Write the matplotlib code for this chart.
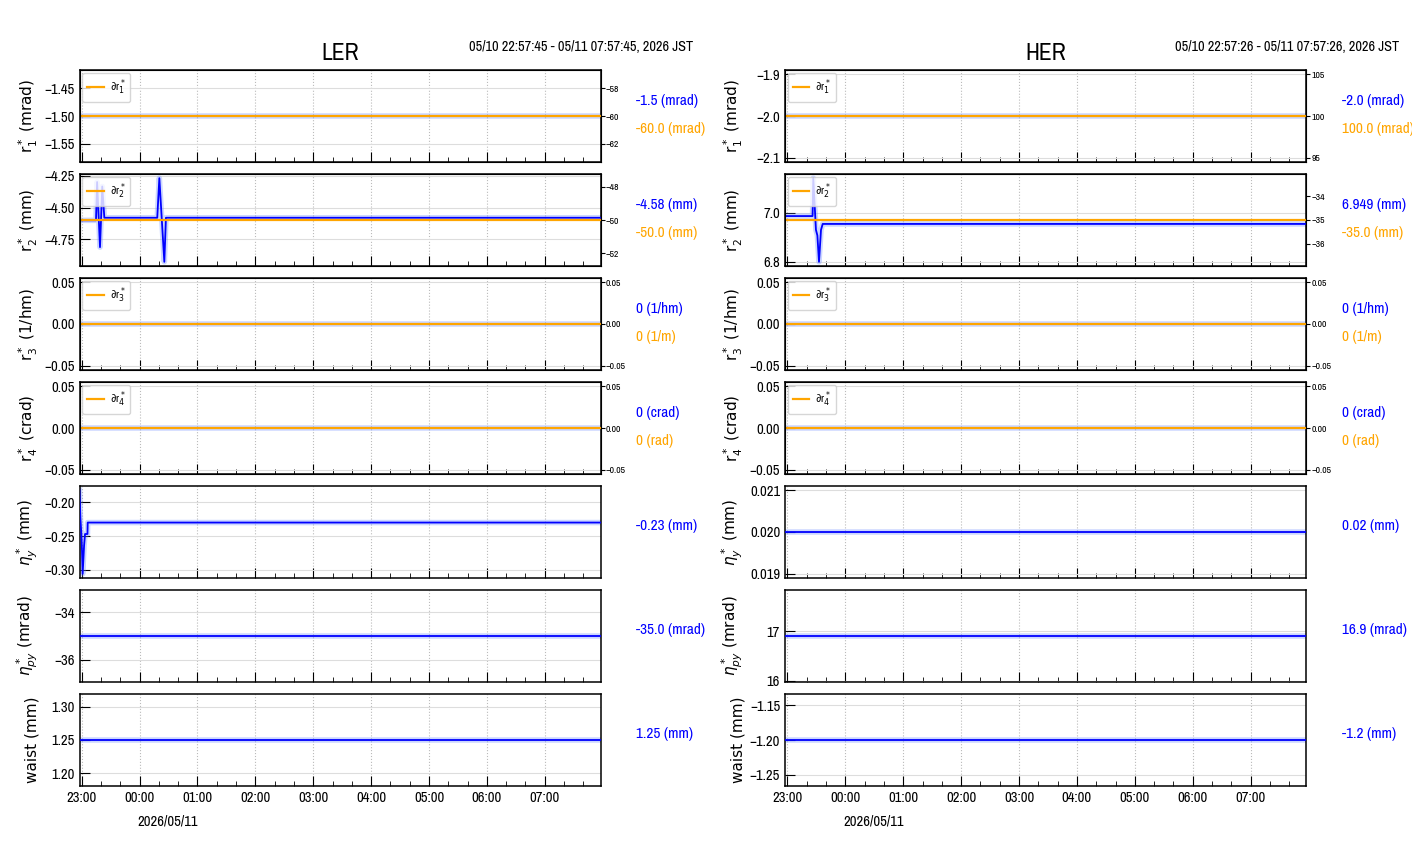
import pandas as pd
import matplotlib.pyplot as plt
import matplotlib.dates as mdates
from matplotlib import font_manager as fm
from matplotlib.ticker import MaxNLocator

# pick a narrow font for the numbers / titles if one is installed
fonts = fm.fontManager.ttflist
narrow_name, narrow_stretch = 'Liberation Sans', 'normal'
for f in fonts:
    if f.name == 'Liberation Sans Narrow':
        narrow_name, narrow_stretch = f.name, 'normal'
        break
else:
    for f in fonts:
        if 'Condensed' in f.name or 'Narrow' in f.name:
            narrow_name, narrow_stretch = f.name, 'normal'
            break
    else:
        for f in fonts:
            if f.name in ('DejaVu Sans', 'Roboto', 'Open Sans', 'Noto Sans') and 'condensed' in str(f.stretch):
                narrow_name, narrow_stretch = f.name, f.stretch
                break

plt.rcParams['font.family'] = [narrow_name, 'DejaVu Sans']
plt.rcParams['font.stretch'] = narrow_stretch
plt.rcParams['axes.unicode_minus'] = True

# time windows
ler_t0, ler_t1 = '2026-05-10 22:57:45', '2026-05-11 07:57:45'
her_t0, her_t1 = '2026-05-10 22:57:26', '2026-05-11 07:57:26'
ler_range = '05/10 22:57:45 - 05/11 07:57:45, 2026 JST'
her_range = '05/10 22:57:26 - 05/11 07:57:26, 2026 JST'
date_label = '2026/05/11'

ylabels = ['r$_1^*$ (mrad)', 'r$_2^*$ (mm)', 'r$_3^*$ (1/hm)', 'r$_4^*$ (crad)',
           '$\\eta_y^*$ (mm)', '$\\eta_{py}^*$ (mrad)', 'waist (mm)']
leg_labels = ['∂r$_1^*$', '∂r$_2^*$', '∂r$_3^*$', '∂r$_4^*$']

# LER r2* (spikes)
ler_r2_t = ['2026-05-10 22:57:45', '2026-05-10 23:14:50', '2026-05-10 23:16:00',
            '2026-05-10 23:19:00', '2026-05-10 23:21:20', '2026-05-10 23:23:30',
            '2026-05-11 00:18:20', '2026-05-11 00:20:30', '2026-05-11 00:25:40',
            '2026-05-11 00:27:20', '2026-05-11 07:57:45']
ler_r2_v = [-4.60, -4.60, -4.30, -4.81, -4.335, -4.58, -4.58, -4.27, -4.925, -4.58, -4.58]

# LER eta_y*
ler_ny_t = ['2026-05-10 22:57:45', '2026-05-10 22:58:40', '2026-05-10 22:59:40',
            '2026-05-10 23:00:10', '2026-05-10 23:01:00', '2026-05-10 23:02:30',
            '2026-05-10 23:03:30', '2026-05-10 23:06:00', '2026-05-10 23:06:15',
            '2026-05-11 07:57:45']
ler_ny_v = [-0.182, -0.223, -0.247, -0.264, -0.306, -0.264, -0.247, -0.247, -0.23, -0.23]

# HER r2*
her_r2_t = ['2026-05-10 22:57:26', '2026-05-10 23:26:00', '2026-05-10 23:26:45',
            '2026-05-10 23:29:30', '2026-05-10 23:31:00', '2026-05-10 23:32:40',
            '2026-05-10 23:34:45', '2026-05-10 23:35:30', '2026-05-10 23:36:30',
            '2026-05-11 07:57:26']
her_r2_v = [6.986, 6.986, 7.14, 6.93, 6.907, 6.80, 6.93, 6.94, 6.954, 6.954]

# constant values
ler_const = [-1.5, None, 0.0, 0.0, None, -35.0, 1.25]
ler_set = [-60.0, -50.0, 0.0, 0.0]
her_const = [-2.0, None, 0.0, 0.0, 0.02, 16.9, -1.2]
her_set = [100.0, -35.0, 0.0, 0.0]

ler_txt = ['-1.5 (mrad)', '-4.58 (mm)', '0 (1/hm)', '0 (crad)', '-0.23 (mm)', '-35.0 (mrad)', '1.25 (mm)']
ler_set_txt = ['-60.0 (mrad)', '-50.0 (mm)', '0 (1/m)', '0 (rad)']
her_txt = ['-2.0 (mrad)', '6.949 (mm)', '0 (1/hm)', '0 (crad)', '0.02 (mm)', '16.9 (mrad)', '-1.2 (mm)']
her_set_txt = ['100.0 (mrad)', '-35.0 (mm)', '0 (1/m)', '0 (rad)']

fig = plt.figure(figsize=(14.12, 8.64), dpi=100)
W, H = 1412, 864


def blue_line(ax, t, v):
    t = pd.to_datetime(t)
    ax.plot(t, v, color='#6f8fff', lw=4, alpha=0.35, zorder=2)
    ax.plot(t, v, color='blue', lw=1.3, zorder=3)


def make_column(left_px, t0, t1, const, setv, txt, set_txt, series, title, trange):
    t0, t1 = pd.Timestamp(t0), pd.Timestamp(t1)
    axes = []
    for i in range(7):
        top = 70 + i * 104
        ax = fig.add_axes([left_px / W, 1 - (top + 92) / H, 521 / W, 92 / H])
        axes.append(ax)
        if i in series:
            blue_line(ax, *series[i])
        else:
            blue_line(ax, [t0, t1], [const[i], const[i]])
        ax.set_xlim(t0, t1)
        ax.xaxis.set_major_locator(mdates.HourLocator())
        ax.xaxis.set_minor_locator(mdates.MinuteLocator(byminute=[20, 40]))
        ax.xaxis.set_major_formatter(mdates.DateFormatter('%H:%M'))
        ax.tick_params(which='both', direction='in', labelsize=10.5)
        ax.tick_params(which='major', length=7)
        ax.tick_params(which='minor', length=3.5)
        ax.grid(axis='x', ls=':', color='#bbbbbb', lw=0.8)
        ax.grid(axis='y', ls='-', color='#dddddd', lw=0.8)
        for s in ax.spines.values():
            s.set_linewidth(1.1)
        if i < 6:
            ax.tick_params(labelbottom=False)
        ax.set_ylabel(ylabels[i], family='DejaVu Sans', stretch='normal', fontsize=11)
        ax.yaxis.set_label_coords(-0.076, 0.5)
        if i < 4:
            tw = ax.twinx()
            tw.plot([t0, t1], [setv[i], setv[i]], color='orange', lw=1.6, label=leg_labels[i])
            tw.yaxis.set_major_locator(MaxNLocator(nbins=4, steps=[1, 2, 2.5, 5, 10]))
            tw.tick_params(direction='out', labelsize=7, length=3, pad=1)
            tw.legend(loc='upper left', fontsize=8, handlelength=1.5, handletextpad=0.5,
                      framealpha=0.8, borderpad=0.45, borderaxespad=0.25)
            ax.text(1.069, 0.66, txt[i], transform=ax.transAxes, color='blue',
                    fontsize=11, va='center')
            ax.text(1.069, 0.36, set_txt[i], transform=ax.transAxes, color='orange',
                    fontsize=11, va='center')
        else:
            ax.text(1.069, 0.565, txt[i], transform=ax.transAxes, color='blue',
                    fontsize=11, va='center')
    axes[0].set_title(title, fontsize=17, pad=7)
    axes[0].text(1.178, 1.25, trange, transform=axes[0].transAxes, ha='right',
                 va='center', fontsize=10.3)
    axes[-1].text(0.17, -0.39, date_label, transform=axes[-1].transAxes, ha='center',
                  va='center', fontsize=10.5)


make_column(79.5, ler_t0, ler_t1, ler_const, ler_set, ler_txt, ler_set_txt,
            {1: (ler_r2_t, ler_r2_v), 4: (ler_ny_t, ler_ny_v)}, 'LER', ler_range)
make_column(785, her_t0, her_t1, her_const, her_set, her_txt, her_set_txt,
            {1: (her_r2_t, her_r2_v)}, 'HER', her_range)

fig.savefig('out.png', dpi=100)
